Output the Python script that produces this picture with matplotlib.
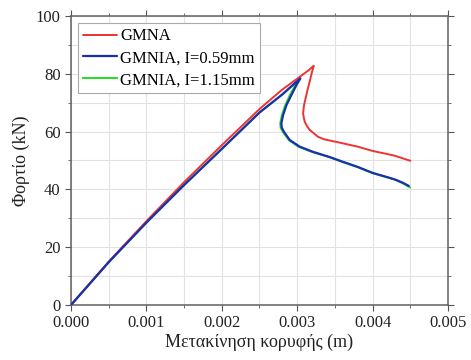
import matplotlib
matplotlib.use("Agg")
import matplotlib.pyplot as plt
from matplotlib.ticker import MultipleLocator

plt.rcParams["font.family"] = ["Liberation Serif", "DejaVu Serif"]

# GMNA (red)
gmna_x = [0.0, 0.0005, 0.001, 0.0015, 0.002, 0.0025, 0.0028, 0.003, 0.00315, 0.00322,
          0.00319, 0.003166, 0.00314, 0.003122, 0.003091, 0.003078, 0.00309, 0.0031,
          0.00313, 0.003166, 0.00322, 0.003276, 0.00335, 0.00345, 0.00356,
          0.0038, 0.0040, 0.0042, 0.0043, 0.0045]
gmna_y = [0.0, 15.0, 29.0, 42.5, 55.3, 67.8, 74.5, 78.3, 81.2, 82.8,
          80.0, 77.3, 74.8, 72.7, 69.2, 66.3, 64.5, 63.4,
          61.9, 60.6, 59.4, 58.2, 57.4, 56.8, 56.2,
          54.8, 53.3, 52.2, 51.6, 49.9]

# GMNIA, I=0.59mm (blue)
blue_x = [0.0, 0.0005, 0.001, 0.0015, 0.002, 0.0025, 0.0028, 0.00295, 0.003042,
          0.00299, 0.002924, 0.002858, 0.002813, 0.00279, 0.002795, 0.002822, 0.0029,
          0.003033, 0.003209, 0.00343, 0.0036, 0.0038, 0.0040, 0.0042, 0.0043,
          0.0044, 0.00448]
blue_y = [0.0, 14.8, 28.5, 41.5, 54.0, 66.6, 72.8, 76.3, 78.4,
          76.1, 72.7, 69.2, 65.7, 62.9, 61.4, 60.0, 57.1,
          54.8, 53.0, 51.2, 49.6, 47.8, 45.7, 44.2, 43.4,
          42.3, 41.2]

# GMNIA, I=1.15mm (green)
green_x = [0.0, 0.0005, 0.001, 0.0015, 0.002, 0.0025, 0.0028, 0.00295, 0.00302,
           0.00297, 0.0029, 0.00284, 0.002795, 0.002775, 0.00278, 0.00281, 0.00289,
           0.00302, 0.0032, 0.00343, 0.0036, 0.0038, 0.0040, 0.0042, 0.0043,
           0.0044, 0.0045]
green_y = [0.0, 14.8, 28.5, 41.5, 54.0, 66.6, 72.8, 76.2, 77.9,
           75.8, 72.5, 69.0, 65.6, 62.8, 61.3, 59.9, 57.0,
           54.7, 52.9, 51.1, 49.5, 47.7, 45.6, 44.1, 43.3,
           42.1, 40.6]

fig = plt.figure(figsize=(4.71, 3.6), dpi=100)
ax = fig.add_axes([0.1507, 0.1528, 0.8005, 0.8028])

kw = dict(solid_joinstyle="round", solid_capstyle="round")
ax.plot(green_x, green_y, color="#22dd22", lw=1.4, zorder=2, **kw)
ax.plot(gmna_x, gmna_y, color="#ee3333", lw=1.4, label="GMNA", zorder=3, **kw)
ax.plot(blue_x, blue_y, color="#1a2fb0", lw=1.6, label="GMNIA, I=0.59mm", zorder=4, **kw)
ax.plot([], [], color="#22dd22", lw=1.4, label="GMNIA, I=1.15mm")

ax.set_xlim(0, 0.005)
ax.set_ylim(0, 100)
ax.xaxis.set_major_locator(MultipleLocator(0.001))
ax.xaxis.set_minor_locator(MultipleLocator(0.0005))
ax.yaxis.set_major_locator(MultipleLocator(20))
ax.yaxis.set_minor_locator(MultipleLocator(10))
ax.xaxis.set_major_formatter(plt.FormatStrFormatter("%.3f"))
ax.grid(which="both", color="#e2e2e2", lw=0.8)
ax.set_axisbelow(True)
ax.tick_params(which="both", direction="out", top=True, right=True,
               colors="#555555", labelcolor="#222222", labelsize=12)
ax.tick_params(which="major", length=4)
ax.tick_params(which="minor", length=2.5)
for s in ax.spines.values():
    s.set_color("#606060")
    s.set_linewidth(1.1)

ax.set_xlabel("Μετακίνηση κορυφής (m)", fontsize=13, color="#222222", labelpad=2)
ax.set_ylabel("Φορτίο (kN)", fontsize=13, color="#222222", labelpad=4)

leg = ax.legend(loc="upper left", fontsize=12, handlelength=2.0, handletextpad=0.2,
                borderpad=0.3, labelspacing=0.35, borderaxespad=0.45, fancybox=False,
                framealpha=1)
leg.get_frame().set_edgecolor("#aaaaaa")
leg.get_frame().set_linewidth(0.8)

fig.savefig("out.png", dpi=100)
